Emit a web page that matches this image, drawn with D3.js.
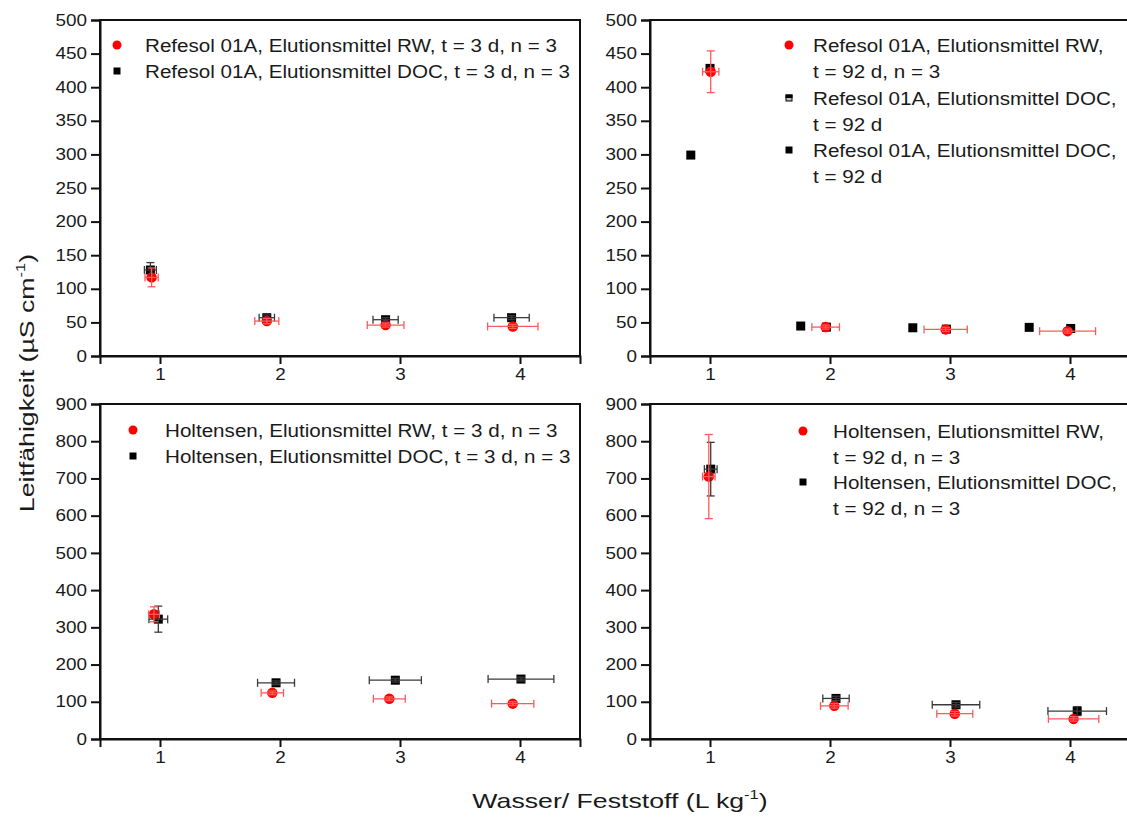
<!DOCTYPE html>
<html>
<head>
<meta charset="utf-8">
<script src="https://cdn.jsdelivr.net/npm/d3@7"></script>
<style>
  html, body { margin: 0; padding: 0; background: #fff; }
  svg { display: block; font-family: "Liberation Sans", Arial, sans-serif; }
</style>
</head>
<body>
<svg id="chart" width="1127" height="820"></svg>
<script>
// ---- shared axis settings ----
const xTicks = [1, 2, 3, 4];
const yTicksTop = [0, 50, 100, 150, 200, 250, 300, 350, 400, 450, 500];
const yTicksBottom = [0, 100, 200, 300, 400, 500, 600, 700, 800, 900];

// ---- Refesol 01A, t = 3 d ----
const ref3RwX = [0.93, 1.89, 2.88, 3.94];
const ref3RwY = [117, 52, 46, 44];
const ref3RwXErr = [0.055, 0.10, 0.153, 0.21];
const ref3RwYErr = [14, 4, 3, 3];
const ref3DocX = [0.92, 1.89, 2.88, 3.93];
const ref3DocY = [128, 57, 54, 57];
const ref3DocXErr = [0.05, 0.064, 0.105, 0.147];
const ref3DocYErr = [11, 4, 3, 3];

// ---- Refesol 01A, t = 92 d ----
const ref92RwX = [1.006, 1.964, 2.964, 3.98];
const ref92RwY = [423, 43, 39.6, 37];
const ref92RwXErr = [0.068, 0.115, 0.18, 0.233];
const ref92RwYErr = [31, 3, 3, 3];
const ref92DocAX = [1.0, 1.97, 2.97, 4.006];
const ref92DocAY = [428, 43, 40, 41];
const ref92DocBX = [0.84, 1.756, 2.69, 3.66];
const ref92DocBY = [299, 44.6, 42, 42.6];

// ---- Holtensen, t = 3 d ----
const hol3RwX = [0.95, 1.936, 2.911, 3.939];
const hol3RwY = [335, 124, 108, 95];
const hol3RwXErr = [0.045, 0.093, 0.133, 0.176];
const hol3RwYErr = [20, 5, 5, 5];
const hol3DocX = [0.986, 1.967, 2.961, 4.008];
const hol3DocY = [322, 151, 158, 161];
const hol3DocXErr = [0.078, 0.154, 0.217, 0.274];
const hol3DocYErr = [35, 5, 5, 5];

// ---- Holtensen, t = 92 d ----
const hol92RwX = [0.99, 2.036, 3.04, 4.03];
const hol92RwY = [705, 89, 68, 54];
const hol92RwXErr = [0.052, 0.115, 0.15, 0.21];
const hol92RwYErr = [113, 6, 6, 6];
const hol92DocX = [1.006, 2.05, 3.05, 4.06];
const hol92DocY = [725, 109, 92, 75];
const hol92DocXErr = [0.053, 0.11, 0.198, 0.244];
const hol92DocYErr = [72, 6, 6, 12];

const RED = "#ff0000";
const RED_BAR = "#ff5a5a";
const BLACK = "#000";
const BLACK_BAR = "#3a3a3a";
const TEXT = "#1a1a1a";

const zip = (xs, ys, xe, ye) => xs.map((x, i) => ({
  x, y: ys[i], xe: xe ? xe[i] : 0, ye: ye ? ye[i] : 0
}));

const panels = [
  {
    left: 100, top: 20, width: 480, height: 336, yMax: 500, yTicks: yTicksTop,
    series: [
      { data: zip(ref3DocX, ref3DocY, ref3DocXErr, ref3DocYErr), shape: "square", color: BLACK, bar: BLACK_BAR },
      { data: zip(ref3RwX, ref3RwY, ref3RwXErr, ref3RwYErr), shape: "circle", color: RED, bar: RED_BAR }
    ],
    legend: { symX: 117, textX: 145, items: [
      { shape: "circle", lines: ["Refesol 01A, Elutionsmittel RW, t = 3 d, n = 3"], y: 52 },
      { shape: "square", lines: ["Refesol 01A, Elutionsmittel DOC, t = 3 d, n = 3"], y: 78 }
    ] }
  },
  {
    left: 650, top: 20, width: 480, height: 336, yMax: 500, yTicks: yTicksTop,
    series: [
      { data: zip(ref92DocBX, ref92DocBY), shape: "square", color: BLACK, bar: BLACK_BAR },
      { data: zip(ref92DocAX, ref92DocAY), shape: "square", color: BLACK, bar: BLACK_BAR },
      { data: zip(ref92RwX, ref92RwY, ref92RwXErr, ref92RwYErr), shape: "circle", color: RED, bar: RED_BAR }
    ],
    legend: { symX: 789, textX: 813, items: [
      { shape: "circle", lines: ["Refesol 01A, Elutionsmittel RW,", "t = 92 d, n = 3"], y: 52 },
      { shape: "half", lines: ["Refesol 01A, Elutionsmittel DOC,", "t = 92 d"], y: 105 },
      { shape: "square", lines: ["Refesol 01A, Elutionsmittel DOC,", "t = 92 d"], y: 157 }
    ] }
  },
  {
    left: 100, top: 404, width: 480, height: 335, yMax: 900, yTicks: yTicksBottom,
    series: [
      { data: zip(hol3DocX, hol3DocY, hol3DocXErr, hol3DocYErr), shape: "square", color: BLACK, bar: BLACK_BAR },
      { data: zip(hol3RwX, hol3RwY, hol3RwXErr, hol3RwYErr), shape: "circle", color: RED, bar: RED_BAR }
    ],
    legend: { symX: 133, textX: 165, items: [
      { shape: "circle", lines: ["Holtensen, Elutionsmittel RW, t = 3 d, n = 3"], y: 437 },
      { shape: "square", lines: ["Holtensen, Elutionsmittel DOC, t = 3 d, n = 3"], y: 463 }
    ] }
  },
  {
    left: 650, top: 404, width: 480, height: 335, yMax: 900, yTicks: yTicksBottom,
    series: [
      { data: zip(hol92DocX, hol92DocY, hol92DocXErr, hol92DocYErr), shape: "square", color: BLACK, bar: BLACK_BAR },
      { data: zip(hol92RwX, hol92RwY, hol92RwXErr, hol92RwYErr), shape: "circle", color: RED, bar: RED_BAR }
    ],
    legend: { symX: 803, textX: 833, items: [
      { shape: "circle", lines: ["Holtensen, Elutionsmittel RW,", "t = 92 d, n = 3"], y: 438 },
      { shape: "square", lines: ["Holtensen, Elutionsmittel DOC,", "t = 92 d, n = 3"], y: 489 }
    ] }
  }
];

const svg = d3.select("#chart");
const LINE_GAP = 26;

// widen glyphs along the text direction (the typeface is set a little broad)
function widen(sel, k) {
  sel.each(function () {
    const n = this.getComputedTextLength();
    d3.select(this).attr("textLength", n * k).attr("lengthAdjust", "spacingAndGlyphs");
  });
}

function drawMarker(g, shape, cx, cy, color, size) {
  if (shape === "circle") {
    g.append("circle").attr("cx", cx).attr("cy", cy).attr("r", size / 2).attr("fill", color);
  } else if (shape === "square") {
    g.append("rect").attr("x", cx - size / 2).attr("y", cy - size / 2)
      .attr("width", size).attr("height", size).attr("fill", color);
  } else if (shape === "half") {
    g.append("rect").attr("x", cx - size / 2 + 0.5).attr("y", cy - size / 2 + 0.5)
      .attr("width", size - 1).attr("height", size - 1)
      .attr("fill", "#bbb").attr("stroke", "#000").attr("stroke-width", 1);
    g.append("rect").attr("x", cx - size / 2).attr("y", cy - size / 2)
      .attr("width", size).attr("height", size / 2).attr("fill", "#000");
  }
}

panels.forEach(p => {
  const x = d3.scaleLinear().domain([0.5, 4.5]).range([p.left, p.left + p.width]);
  const y = d3.scaleLinear().domain([0, p.yMax]).range([p.top + p.height, p.top]);
  const g = svg.append("g");

  // frame
  g.append("rect").attr("x", p.left).attr("y", p.top)
    .attr("width", p.width).attr("height", p.height)
    .attr("fill", "none").attr("stroke", "#111").attr("stroke-width", 2);

  // axes
  const xAxis = g.append("g").attr("transform", `translate(0,${p.top + p.height})`)
    .call(d3.axisBottom(x).tickValues(xTicks).tickSize(8).tickPadding(5).tickFormat(d3.format("d")));
  const yAxis = g.append("g").attr("transform", `translate(${p.left},0)`)
    .call(d3.axisLeft(y).tickValues(p.yTicks).tickSize(9).tickPadding(4).tickFormat(d3.format("d")));
  [xAxis, yAxis].forEach(a => {
    a.select(".domain").attr("stroke", "#111").attr("stroke-width", 2);
    a.selectAll(".tick line").attr("stroke", "#111").attr("stroke-width", 2);
    a.selectAll(".tick text").attr("fill", TEXT).attr("font-size", 16)
      .attr("font-family", "'Liberation Sans', Arial, sans-serif")
      .call(widen, 1.18);
  });

  // data markers, then error bars
  const marks = g.append("g");
  p.series.forEach(s => {
    s.data.forEach(d => drawMarker(marks, s.shape, x(d.x), y(d.y), s.color, s.shape === "circle" ? 10.5 : 9));
  });
  p.series.forEach(s => {
    const eb = g.append("g").attr("stroke", s.bar).attr("stroke-width", 1.3).attr("fill", "none");
    s.data.forEach(d => {
      const cx = x(d.x), cy = y(d.y);
      if (d.xe) {
        const x0 = x(d.x - d.xe), x1 = x(d.x + d.xe);
        eb.append("line").attr("x1", x0).attr("x2", x1).attr("y1", cy).attr("y2", cy);
        eb.append("line").attr("x1", x0).attr("x2", x0).attr("y1", cy - 4).attr("y2", cy + 4);
        eb.append("line").attr("x1", x1).attr("x2", x1).attr("y1", cy - 4).attr("y2", cy + 4);
      }
      if (d.ye) {
        const y0 = y(d.y - d.ye), y1 = y(d.y + d.ye);
        eb.append("line").attr("x1", cx).attr("x2", cx).attr("y1", y0).attr("y2", y1);
        eb.append("line").attr("x1", cx - 4).attr("x2", cx + 4).attr("y1", y0).attr("y2", y0);
        eb.append("line").attr("x1", cx - 4).attr("x2", cx + 4).attr("y1", y1).attr("y2", y1);
      }
    });
  });

  // legend
  const lg = g.append("g");
  p.legend.items.forEach(item => {
    const color = item.shape === "circle" ? RED : BLACK;
    drawMarker(lg, item.shape, p.legend.symX, item.y - 7, color, item.shape === "circle" ? 9 : 7);
    item.lines.forEach((line, i) => {
      lg.append("text").attr("x", p.legend.textX).attr("y", item.y + i * LINE_GAP)
        .attr("font-size", 18).attr("fill", TEXT).text(line)
        .call(widen, 1.145);
    });
  });
});

// axis titles: main run + superscript exponent + closing parenthesis
function title(x, y, rotate, main) {
  const g = svg.append("g").attr("transform", `translate(${x},${y}) rotate(${rotate})`);
  const k = 1.27;
  const t1 = g.append("text").attr("font-size", 21).attr("fill", TEXT).text(main);
  const t2 = g.append("text").attr("font-size", 13).attr("fill", TEXT).text("-1");
  const t3 = g.append("text").attr("font-size", 21).attr("fill", TEXT).text(")");
  const w1 = t1.node().getComputedTextLength() * k;
  const w2 = t2.node().getComputedTextLength() * k;
  const w3 = t3.node().getComputedTextLength() * k;
  const start = -(w1 + w2 + w3) / 2;
  t1.attr("x", start).attr("textLength", w1).attr("lengthAdjust", "spacingAndGlyphs");
  t2.attr("x", start + w1).attr("y", -9).attr("textLength", w2).attr("lengthAdjust", "spacingAndGlyphs");
  t3.attr("x", start + w1 + w2).attr("textLength", w3).attr("lengthAdjust", "spacingAndGlyphs");
}
title(34, 383, -90, "Leitfähigkeit (µS cm");
title(620, 808, 0, "Wasser/ Feststoff (L kg");
</script>
</body>
</html>
